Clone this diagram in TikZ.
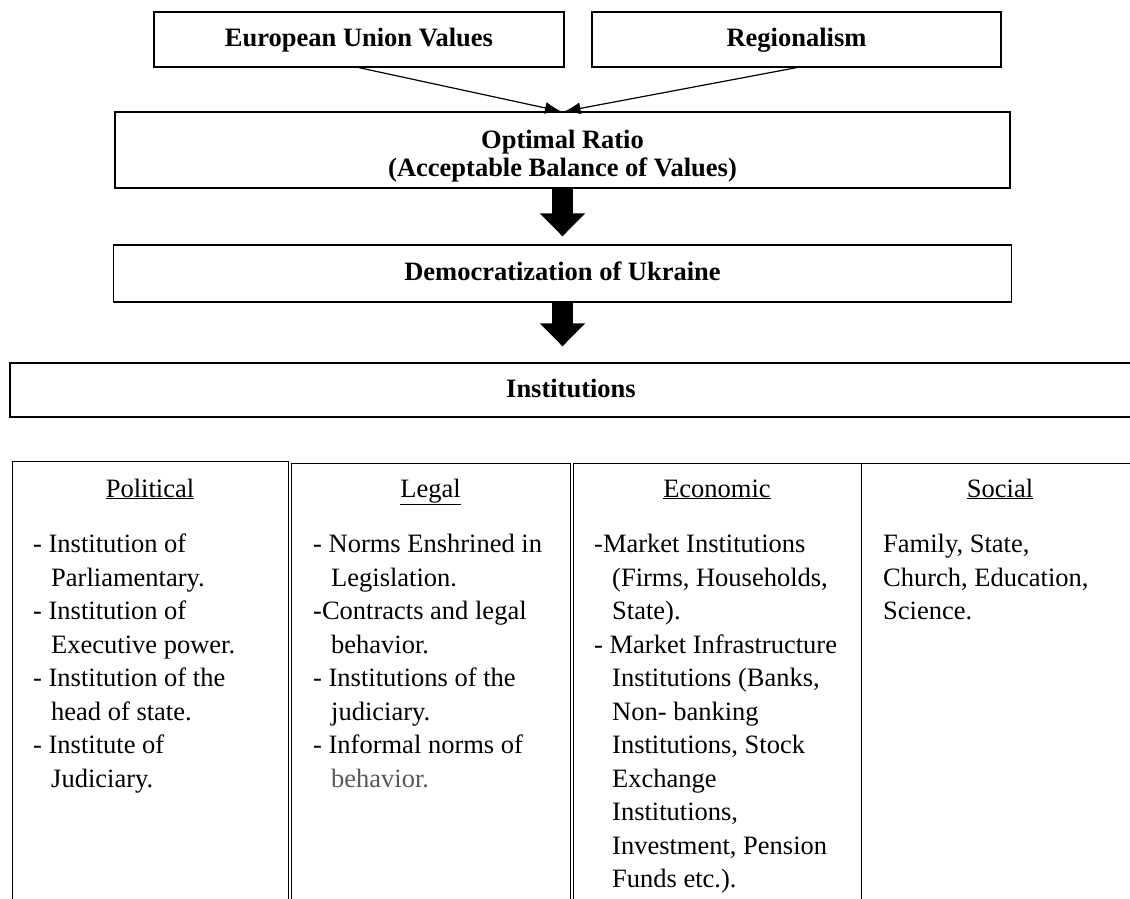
\documentclass[tikz,border=0pt]{standalone}
\usepackage{fontspec}
\setmainfont{Liberation Serif}
\usetikzlibrary{arrows.meta}
\begin{document}
\begin{tikzpicture}[x=1pt,y=-1pt,
  box/.style={draw, line width=1.3pt, inner sep=0pt,
    font=\fontsize{26.5pt}{28pt}\selectfont\bfseries, text height=18pt, text depth=4pt},
  col/.style={draw, line width=1.3pt, inner sep=0pt, anchor=north west, minimum height=470pt},
  hdr/.style={anchor=base, inner sep=0pt, font=\fontsize{26.5pt}{33.5pt}\selectfont},
  body/.style={anchor=north west, inner sep=0pt, align=left, font=\fontsize{26.5pt}{33.5pt}\selectfont},
  thinarrow/.style={line width=1.2pt, -{Latex[length=16pt,width=12pt]}},
  fatarrow/.style={line width=21pt, -{Triangle[length=23pt,width=44pt]}}
]
\useasboundingbox (0,0) rectangle (1130,898);
% top boxes
\node[box, minimum width=410pt, minimum height=55pt] (eu) at (359,39.5) {European Union Values};
\node[box, minimum width=409pt, minimum height=55pt] (reg) at (796.5,39.5) {Regionalism};
\node[box, minimum width=895pt, minimum height=76pt] (opt) at (562.5,150) {};
\node[anchor=north, inner sep=0pt, align=center,
  font=\fontsize{26.5pt}{28pt}\selectfont\bfseries] (optt) at (562.5,130) {Optimal Ratio\\(Acceptable Balance of Values)};
\node[box, minimum width=898pt, minimum height=57pt] (demo) at (562.5,273.5) {Democratization of Ukraine};
\node[box, minimum width=1122pt, minimum height=54pt] (inst) at (571,390) {Institutions};
% connectors
\draw[thinarrow] (eu.south) -- ([xshift=-1.5pt]opt.north);
\draw[thinarrow] (reg.south) -- ([xshift=2pt]opt.north);
\draw[fatarrow, shorten >=8pt] (opt.south) -- (demo.north);
\draw[fatarrow, shorten >=16pt] (demo.south) -- (demo.south |- inst.north);
% columns
\node[col, minimum width=276pt] (pol) at (12,461) {};
\node[col, minimum width=279pt] (leg) at (291,463) {};
\node[col, minimum width=288pt] (eco) at (573,463) {};
\node[col, minimum width=280pt] (soc) at (861,463) {};
\node[hdr] (polh) at (150,497) {\underline{Political}};
\node[hdr] (legh) at (430.5,497) {\underline{Legal}};
\node[hdr] (ecoh) at (717,497) {\underline{Economic}};
\node[hdr] (soch) at (1000,497) {\underline{Social}};
\node[body] (polb) at (33,534) {- Institution of\\\hspace*{18pt}Parliamentary.\\- Institution of\\\hspace*{18pt}Executive power.\\- Institution of the\\\hspace*{18pt}head of state.\\- Institute of\\\hspace*{18pt}Judiciary.};
\node[body] (legb) at (313,534) {- Norms Enshrined in\\\hspace*{18pt}Legislation.\\-Contracts and legal\\\hspace*{18pt}behavior.\\- Institutions of the\\\hspace*{18pt}judiciary.\\- Informal norms of\\\hspace*{18pt}{\color{black!65}behavior.}};
\node[body] (ecob) at (594,534) {-Market Institutions\\\hspace*{18pt}(Firms, Households,\\\hspace*{18pt}State).\\- Market Infrastructure\\\hspace*{18pt}Institutions (Banks,\\\hspace*{18pt}Non- banking\\\hspace*{18pt}Institutions, Stock\\\hspace*{18pt}Exchange\\\hspace*{18pt}Institutions,\\\hspace*{18pt}Investment, Pension\\\hspace*{18pt}Funds etc.).};
\node[body] (socb) at (883,534) {Family, State,\\Church, Education,\\Science.};
\end{tikzpicture}
\end{document}
